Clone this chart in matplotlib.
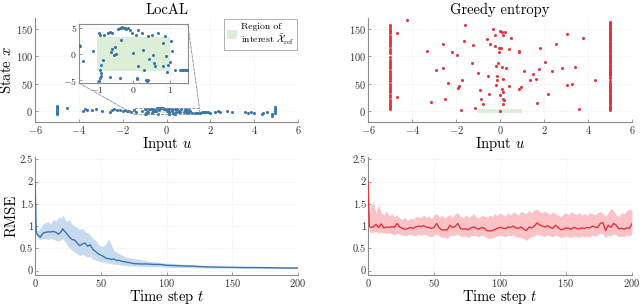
import numpy as np
import matplotlib
matplotlib.use("Agg")
import matplotlib.pyplot as plt
from matplotlib.patches import Rectangle, Patch, ConnectionPatch

plt.rcParams['font.family'] = 'cmr10'
plt.rcParams['mathtext.fontset'] = 'cm'
plt.rcParams['axes.formatter.use_mathtext'] = True

blue = '#3a74ad'
red = '#e5333d'
green = '#dcefd6'
gray = '#8c8c8c'

# region of interest (input u, state x)
roi_u = [-1.0, 1.0]
roi_x = [-3.2, 3.2]

# LocAL samples close to the region (also shown in the inset)
local_in_u = [-1.50, -1.48, -1.40, -1.10, -0.96, -0.93, -0.90, -0.88, -0.96, -0.93,
              -0.84, -0.81, -0.70, -0.65, -0.60, -0.65, -0.63, -0.59, -0.53, -0.47,
              -0.42, -0.38, -0.35, -0.33, -0.37, -0.30, -0.27, -0.24, -0.20, -0.15,
              -0.10, -0.05, 0.00, 0.06, 0.09, 0.13, 0.13, 0.23, 0.27, 0.30,
              0.34, 0.37, 0.40, 0.39, 0.43, 0.50, 0.55, 0.58, 0.60, 0.67,
              0.81, 0.83, 0.92, 1.01, 1.04, 1.06, 1.15, 1.29, 1.33, 1.38,
              1.42, 1.47, 1.51, -0.93, -0.88, -0.51, 0.95, 0.90, 0.88, 0.09]
local_in_x = [1.75, 1.6, -1.4, 0.5, -5.1, -4.6, -3.6, -4.2, 4.0, 3.7,
              -1.2, 3.6, 4.1, 4.2, 4.1, -4.3, 0.3, 0.95, -0.1, 0.1,
              4.8, 4.9, 5.0, 2.7, -4.5, 5.1, 4.9, 5.0, 4.7, 4.9,
              4.6, 4.0, 0.2, 3.6, -4.8, 4.6, -2.2, 4.0, 0.7, -3.1,
              -4.9, -5.2, -4.85, 3.45, -0.95, 3.6, -0.13, -1.7, -2.3, 4.1,
              -2.3, 2.1, -3.5, -1.6, 2.5, 0.5, -3.1, -3.1, -3.0, -3.1,
              -3.0, -3.1, -3.1, -3.0, -2.0, 1.4, -2.0, -0.4, 3.5, -4.5]

# LocAL samples further away
local_out_u = [-5.0, -5.0, -5.0, -5.0, -5.0, -5.0, -5.0, -5.0, -4.55, -3.8,
               -3.7, -3.65, -3.4, -3.2, -2.95, -2.6, -2.5, -2.4, -2.25, -2.1,
               -2.0, -1.9, -1.8, -1.7, -1.6, 1.6, 1.7, 1.8, 1.9, 2.0,
               2.2, 2.35, 2.45, 2.75, 3.0, 3.6, 3.7, 3.85, 4.0, 4.35,
               4.4, 4.6, 4.8, 4.8, 4.95, 4.95, 4.95, 4.95]
local_out_x = [-6, -3, -1, 1, 3, 5, 7, 10, 5, 1,
               3, 1.5, 2.5, 3, 1, -1, 2, 3, 1.5, 2.5,
               1, 2, 0, 1, -1, -2, -1, -2, -1.5, -3,
               -1, 1, -1, 0, -2, -1, -3, -2, -4, -6,
               -3, -1, -9, -5, -4, 0, 3, 7]

# Greedy entropy samples
greedy_left_x = [4, 7, 10, 13, 17, 21, 25, 29, 34, 38, 42, 46, 50, 54, 58, 62, 66, 70, 74,
                 78, 82, 86, 90, 94, 98, 106, 110, 114, 118, 122, 126, 130, 134, 138,
                 142, 146, 150, 154, 158]
greedy_right_x = [2, 4, 6, 8, 10, 12, 14, 16, 18, 20, 22, 24, 26, 28, 30, 32, 34, 36, 38,
                  40, 42, 44, 46, 48, 50, 52, 54, 61, 63, 65, 67, 69, 71, 73, 75, 77, 79,
                  81, 83, 85, 87, 89, 91, 93, 95, 97, 99, 101, 103, 105, 107, 109, 111,
                  113, 115, 117, 119, 121, 123, 125, 127, 129, 131, 133, 135, 137, 139,
                  141, 143, 145, 147, 149, 151, 153, 155, 157, 159, 161, 163]
greedy_mid_u = [-4.21, -4.66, -4.68, -1.59, -1.64, -3.3, -3.14, -2.61, -2.89, -2.35,
                -2.58, -2.2, -1.97, -2.5, -1.85, -1.9, -1.72, -1.79, -1.29, -1.22,
                -1.14, -0.99, -0.91, -0.88, -0.76, -0.61, -0.53, -0.49, -0.46, -0.3,
                -0.23, -0.23, -0.2, -0.18, -0.15, -0.12, -0.08, -0.04, -0.03, 0.0,
                0.0, 0.02, 0.05, 0.08, 0.11, 0.11, 0.15, 0.15, 0.15, 0.2,
                0.15, 0.12, 0.23, 0.26, 0.41, 0.49, 0.41, 0.87, 0.87, 0.87,
                0.96, 1.09, 1.37, 1.52, 1.63, 1.67, 1.75, 1.82, 2.05, 2.17,
                2.35, 2.54, 2.81, 3.04, 3.04, 3.27, 3.42, 3.57, 3.77, 4.33]
greedy_mid_x = [166.6, 143, 25.7, 157, 128, 110, 16.5, 122, 74.7, 51.4,
                79, 107, 102, 22.6, 45, 43, 56, 2.4, 88, 120.6,
                5.5, 70, 39, 22.6, 13.5, 131, 63.7, 30.6, 122, 149,
                139, 119, 82, 47, 63.7, 56, 88, 107, 114.5, 147,
                28.8, 0, 116, 40, 81, 145, 139.6, 58, 21.4, 19.6,
                13.5, 34, 144, 78, 113, 133, 46, 110, 107, 41,
                44, 73, 57.6, 67, 59.4, 14.7, 76, 116, 90, 30.6,
                73.5, 122, 78, 141, 47, 49, 81, 4.3, 134, 57.6]

# RMSE over time, LocAL
t_local = [0, 1, 2, 4, 6, 8, 10, 12, 14, 16, 18, 20, 21, 22, 24, 26, 28, 30, 32, 34,
           36, 38, 40, 42, 44, 46, 48, 50, 52, 54, 56, 58, 60, 62, 64, 66, 68, 70, 75, 80,
           85, 90, 95, 100, 110, 120, 130, 140, 150, 160, 170, 180, 190, 200]
rmse_local = [2.0, 0.85, 0.8, 0.75, 0.84, 0.86, 0.87, 0.87, 0.88, 0.86, 0.82, 0.88, 0.94, 0.9,
              0.84, 0.76, 0.7, 0.69, 0.62, 0.56, 0.6, 0.62, 0.55, 0.58, 0.48, 0.43, 0.38,
              0.35, 0.32, 0.28, 0.27, 0.25, 0.26, 0.23, 0.23, 0.21, 0.2, 0.19, 0.16, 0.15,
              0.15, 0.14, 0.14, 0.12, 0.11, 0.1, 0.085, 0.08, 0.075, 0.07, 0.07, 0.065,
              0.06, 0.06]
rmse_local_hi = [2.0, 0.9, 0.9, 0.95, 1.05, 1.08, 1.1, 1.05, 1.15, 1.12, 1.2, 1.18, 1.25, 1.2,
                 1.1, 1.15, 1.05, 1.0, 0.98, 0.92, 0.95, 0.88, 0.85, 0.8, 0.72, 0.68, 0.6,
                 0.55, 0.55, 0.6, 0.72, 0.58, 0.45, 0.42, 0.38, 0.35, 0.32, 0.3, 0.27, 0.25,
                 0.22, 0.2, 0.18, 0.17, 0.15, 0.13, 0.11, 0.1, 0.095, 0.09, 0.085, 0.08,
                 0.075, 0.07]
rmse_local_lo = [2.0, 0.8, 0.74, 0.7, 0.72, 0.72, 0.7, 0.72, 0.7, 0.68, 0.66, 0.7, 0.72, 0.68,
                 0.6, 0.52, 0.46, 0.42, 0.38, 0.34, 0.36, 0.34, 0.3, 0.32, 0.26, 0.24, 0.22,
                 0.2, 0.19, 0.17, 0.17, 0.15, 0.15, 0.14, 0.13, 0.12, 0.12, 0.11, 0.1, 0.1,
                 0.09, 0.09, 0.085, 0.08, 0.07, 0.065, 0.06, 0.055, 0.055, 0.05, 0.05, 0.05,
                 0.045, 0.045]

# RMSE over time, greedy entropy
t_greedy = [0, 1] + list(range(2, 201, 2))
rmse_greedy = [2.0, 1.0, 0.97, 0.98, 1.04, 0.97, 1.05, 0.96, 0.98, 0.97,
               0.99, 0.97, 1.06, 0.98, 0.95, 0.93, 0.94, 0.97, 0.95, 0.98,
               1.0, 0.99, 1.01, 0.98, 0.97, 0.95, 0.97, 1.06, 0.96, 0.91,
               0.92, 0.91, 1.02, 0.97, 0.99, 1.06, 0.95, 0.93, 0.94, 0.92,
               0.96, 0.98, 0.95, 0.93, 0.97, 0.96, 0.9, 0.89, 0.9, 0.92,
               0.95, 0.97, 0.96, 0.94, 0.98, 0.97, 1.0, 0.96, 0.95, 0.98,
               0.93, 0.9, 0.98, 0.96, 1.0, 1.07, 1.03, 1.0, 0.98, 1.01,
               0.97, 0.95, 1.02, 0.97, 0.92, 0.93, 0.96, 0.95, 0.93, 0.97,
               0.95, 0.94, 0.96, 0.95, 0.97, 0.96, 1.0, 0.98, 0.97, 1.06,
               1.08, 0.9, 1.02, 0.97, 1.06, 1.02, 0.94, 0.95, 0.93, 0.96,
               0.95, 1.05]
rmse_greedy_hi = [2.0, 1.25, 1.45, 1.55, 1.3, 1.48, 1.3, 1.25, 1.35, 1.22,
                  1.28, 1.2, 1.25, 1.18, 1.15, 1.2, 1.12, 1.18, 1.15, 1.2,
                  1.22, 1.18, 1.25, 1.2, 1.22, 1.17, 1.25, 1.28, 1.2, 1.25,
                  1.18, 1.22, 1.26, 1.2, 1.28, 1.3, 1.22, 1.18, 1.25, 1.2,
                  1.22, 1.28, 1.2, 1.18, 1.25, 1.22, 1.2, 1.25, 1.22, 1.28,
                  1.24, 1.3, 1.26, 1.22, 1.3, 1.25, 1.32, 1.28, 1.25, 1.33,
                  1.3, 1.28, 1.35, 1.3, 1.36, 1.38, 1.32, 1.3, 1.34, 1.3,
                  1.26, 1.32, 1.28, 1.25, 1.22, 1.27, 1.3, 1.25, 1.33, 1.28,
                  1.26, 1.3, 1.25, 1.28, 1.24, 1.3, 1.28, 1.25, 1.3, 1.33,
                  1.28, 1.22, 1.3, 1.4, 1.35, 1.25, 1.22, 1.3, 1.28, 1.35,
                  1.38, 1.36]
rmse_greedy_lo = [2.0, 0.88, 0.85, 0.86, 0.88, 0.84, 0.86, 0.85, 0.84, 0.85,
                  0.83, 0.8, 0.84, 0.82, 0.8, 0.78, 0.8, 0.82, 0.8, 0.78,
                  0.82, 0.8, 0.82, 0.8, 0.78, 0.76, 0.8, 0.82, 0.78, 0.74,
                  0.76, 0.72, 0.8, 0.78, 0.8, 0.82, 0.78, 0.76, 0.78, 0.74,
                  0.78, 0.8, 0.78, 0.76, 0.8, 0.78, 0.74, 0.72, 0.74, 0.76,
                  0.78, 0.8, 0.78, 0.76, 0.8, 0.78, 0.8, 0.76, 0.75, 0.74,
                  0.72, 0.68, 0.74, 0.76, 0.78, 0.82, 0.8, 0.78, 0.76, 0.8,
                  0.78, 0.76, 0.8, 0.78, 0.74, 0.76, 0.78, 0.76, 0.74, 0.78,
                  0.76, 0.75, 0.78, 0.76, 0.78, 0.76, 0.8, 0.78, 0.8, 0.84,
                  0.82, 0.74, 0.8, 0.78, 0.82, 0.8, 0.76, 0.78, 0.76, 0.8,
                  0.78, 0.82]


def style(ax, box=False):
    for s in ['top', 'right']:
        ax.spines[s].set_visible(box)
    for s in ax.spines.values():
        s.set_color(gray)
        s.set_linewidth(0.8)
    ax.tick_params(direction='in', length=2.5, width=0.6, color=gray,
                   labelsize=7.5, labelcolor='#333333', pad=1.5)
    ax.grid(True, color='#e4e4e4', linewidth=0.5, linestyle=':')
    ax.set_axisbelow(True)


def roi(ax):
    ax.add_patch(Rectangle((roi_u[0], roi_x[0]), roi_u[1] - roi_u[0], roi_x[1] - roi_x[0],
                           facecolor=green, edgecolor='none', zorder=1))


fig = plt.figure(figsize=(6.4, 3.05), dpi=100)
ax1 = fig.add_axes([0.0547, 0.600, 0.411, 0.341])
ax2 = fig.add_axes([0.575, 0.600, 0.4125, 0.341])
ax3 = fig.add_axes([0.0547, 0.098, 0.411, 0.387])
ax4 = fig.add_axes([0.575, 0.098, 0.4125, 0.387])

all_u = local_in_u + local_out_u
all_x = local_in_x + local_out_x

lab = 10.5

# top left
roi(ax1)
ax1.plot(all_u, all_x, 'o', color=blue, ms=2.2, mew=0, zorder=3)
ax1.set_xlim(-6, 6)
ax1.set_ylim(-20, 170)
ax1.set_xticks([-6, -4, -2, 0, 2, 4, 6])
ax1.set_yticks([0, 50, 100, 150])
style(ax1)
ax1.set_title('LocAL', fontsize=lab, pad=3)
ax1.set_xlabel('Input $u$', fontsize=lab, labelpad=-1)
ax1.set_ylabel('State $x$', fontsize=lab, labelpad=1)
leg = ax1.legend([Patch(facecolor=green, edgecolor='none')],
                 ['Region of\ninterest $\\bar{\\mathcal{X}}_{\\mathrm{ref}}$'],
                 loc='upper right', fontsize=7, frameon=True, fancybox=False,
                 handlelength=1.0, handleheight=1.0, handletextpad=0.4,
                 borderpad=0.3, borderaxespad=0.15)
leg.get_frame().set_edgecolor(gray)
leg.get_frame().set_linewidth(0.6)

# inset
ins = fig.add_axes([0.1234, 0.728, 0.170, 0.193])
roi(ins)
ins.plot(local_in_u, local_in_x, 'o', color=blue, ms=2.2, mew=0, zorder=3)
ins.set_xlim(-1.5, 1.5)
ins.set_ylim(-5.5, 5.7)
ins.set_xticks([-1, 0, 1])
ins.set_yticks([-5, 0, 5])
style(ins, box=True)
ins.tick_params(labelsize=7)
ax1.add_patch(Rectangle((-1.5, -5.5), 3.0, 11.2, fill=False, edgecolor=gray,
                        linestyle='--', linewidth=0.6, zorder=4))
for (pa, pb) in [((-1.5, -5.5), (-1.5, -5.5)), ((1.5, 5.7), (1.5, 5.7))]:
    con = ConnectionPatch(xyA=pa, coordsA=ins.transData, xyB=pb, coordsB=ax1.transData,
                          color=gray, linestyle='--', linewidth=0.6)
    fig.add_artist(con)

# top right
roi(ax2)
ax2.plot([-5] * len(greedy_left_x), greedy_left_x, 'o', color=red, ms=2.2, mew=0, zorder=3)
ax2.plot([5] * len(greedy_right_x), greedy_right_x, 'o', color=red, ms=2.2, mew=0, zorder=3)
ax2.plot(greedy_mid_u, greedy_mid_x, 'o', color=red, ms=2.2, mew=0, zorder=3)
ax2.set_xlim(-6, 6)
ax2.set_ylim(-20, 170)
ax2.set_xticks([-6, -4, -2, 0, 2, 4, 6])
ax2.set_yticks([0, 50, 100, 150])
style(ax2)
ax2.set_title('Greedy entropy', fontsize=lab, pad=3)
ax2.set_xlabel('Input $u$', fontsize=lab, labelpad=-1)

# bottom
for ax, t, m, hi, lo, c, fc in [
        (ax3, t_local, rmse_local, rmse_local_hi, rmse_local_lo, blue, '#c8dbee'),
        (ax4, t_greedy, rmse_greedy, rmse_greedy_hi, rmse_greedy_lo, red, '#fbc3c6')]:
    ax.fill_between(t, lo, hi, color=fc, linewidth=0, zorder=2)
    ax.plot(t, m, color=c, linewidth=1.0, zorder=3)
    ax.set_xlim(0, 200)
    ax.set_ylim(-0.1, 2.55)
    ax.set_xticks([0, 50, 100, 150, 200])
    ax.set_yticks([0, 0.5, 1, 1.5, 2, 2.5])
    ax.set_yticklabels(['0', '0.5', '1', '1.5', '2', '2.5'])
    style(ax)
    ax.set_xlabel('Time step $t$', fontsize=lab, labelpad=-1)
ax3.set_ylabel('RMSE', fontsize=lab, labelpad=1)

fig.savefig('out.png', dpi=100)
